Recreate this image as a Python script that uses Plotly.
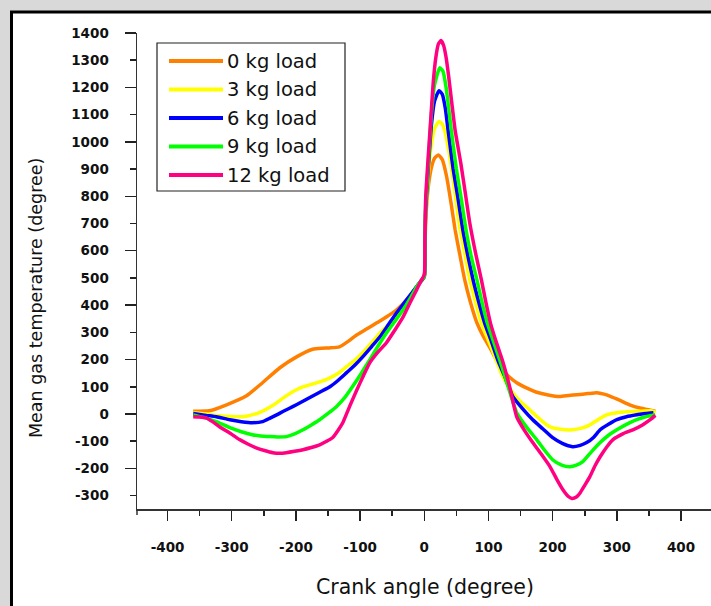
import plotly.graph_objects as go

# ---------------- data ----------------
angle_0kg = [-360, -335, -308, -277, -252, -225, -199, -174, -160, -147, -132, -118, -105, -90, -74, -58, -43, -23, -7, 0,
             1, 2, 4, 7, 11, 16, 22, 28, 35, 42, 48, 55, 63, 72, 82, 92, 102, 112, 122, 133, 144, 160, 175, 193, 211,
             225, 238, 255, 269, 280, 289, 305, 320, 336, 352, 360]
temp_0kg = [10, 12, 34, 67, 115, 170, 210, 238, 242, 243, 247, 268, 291, 312, 335, 358, 383, 431, 482, 505,
            600, 700, 780, 850, 905, 940, 952, 935, 870, 770, 677, 590, 493, 410, 335, 285, 245, 200, 163, 135, 115, 95, 80, 70, 64,
            68, 71, 75, 78, 73, 66, 50, 34, 22, 14, 10]

angle_3kg = [-360, -340, -319, -300, -283, -270, -257, -243, -230, -218, -205, -192, -179, -163, -147, -134, -121, -108, -96, -82,
             -69, -56, -43, -30, -18, -8, 0,
             1, 2, 4, 7, 11, 16, 23, 28, 32, 38, 45, 55, 63, 71, 80, 89, 100, 110, 120, 129, 138, 150, 160, 169,
             183, 196, 213, 231, 245, 258, 271, 284, 300, 316, 335, 352, 360]
temp_3kg = [5, 0, -6, -9, -10, -4, 5, 22, 41, 62, 82, 97, 107, 118, 133, 150, 174, 198, 225, 262,
            298, 328, 357, 400, 445, 480, 505,
            610, 720, 800, 900, 990, 1050, 1075, 1065, 1040, 970, 860, 690, 590, 493, 410, 335, 270, 210, 150, 110, 78, 45, 25, 5,
            -25, -47, -56, -58, -52, -40, -20, -3, 5, 8, 10, 12, 8]

angle_6kg = [-360, -340, -324, -303, -285, -268, -252, -241, -230, -218, -205, -192, -179, -163, -147, -134, -121, -108, -96, -82,
             -69, -56, -43, -30, -18, -8, 0,
             1, 2, 4, 7, 11, 16, 23, 28, 33, 37, 45, 52, 60, 68, 76, 85, 94, 104, 115, 125, 138, 153, 169,
             185, 200, 215, 231, 243, 253, 264, 274, 287, 300, 315, 331, 345, 357]
temp_6kg = [2, -5, -10, -21, -28, -32, -28, -16, -3, 12, 27, 43, 60, 80, 100, 124, 152, 180, 210, 248,
            284, 328, 372, 412, 449, 480, 505,
            620, 740, 820, 930, 1060, 1150, 1188, 1175, 1120, 1044, 900, 800, 677, 580, 493, 410, 335, 270, 195, 140, 64, 20, -21,
            -55, -87, -108, -120, -115, -105, -85, -58, -38, -21, -10, -3, 2, 5]

angle_9kg = [-360, -340, -324, -303, -285, -268, -255, -241, -228, -215, -202, -189, -176, -163, -150, -137, -124, -112, -98, -85,
             -72, -59, -46, -33, -22, -12, -5, 0,
             1, 2, 4, 7, 11, 16, 24, 29, 34, 42, 50, 57, 65, 73, 82, 90, 98, 108, 118, 130, 144, 160, 175,
             188, 200, 214, 227, 237, 247, 260, 274, 287, 300, 315, 331, 345, 360]
temp_9kg = [-3, -15, -28, -50, -65, -76, -81, -83, -84, -83, -73, -58, -40, -21, 2, 27, 60, 100, 150, 199,
            250, 298, 340, 383, 425, 467, 490, 505,
            630, 760, 840, 950, 1100, 1210, 1272, 1260, 1200, 1044, 900, 800, 677, 580, 493, 410, 335, 265, 195, 105, 5, -50, -94,
            -135, -168, -188, -194, -188, -175, -140, -105, -78, -58, -38, -21, -10, -3]

angle_12kg = [-360, -350, -340, -330, -319, -303, -288, -275, -262, -249, -236, -225, -215, -202, -189, -176, -163, -153, -143, -135,
              -127, -116, -105, -95, -85, -72, -59, -46, -33, -22, -12, -5, 0,
              1, 2, 3, 6, 10, 14, 18, 22, 26, 30, 34, 38, 43, 48, 57, 64, 71, 80, 89, 96, 103, 112, 122, 133, 144,
              156, 169, 183, 196, 206, 216, 224, 230, 237, 243, 250, 258, 266, 274, 284, 294, 310, 325, 340, 352, 360]
temp_12kg = [-10, -11, -14, -28, -47, -70, -94, -110, -124, -134, -142, -144, -142, -137, -131, -123, -113, -101, -87, -62,
             -32, 30, 89, 140, 188, 228, 262, 308, 357, 410, 456, 490, 512,
             640, 780, 830, 940, 1080, 1220, 1310, 1360, 1372, 1355, 1310, 1240, 1140, 1044, 920, 810, 700, 590, 493, 410, 335, 265, 195, 100, -10,
             -60, -105, -150, -194, -238, -278, -302, -310, -305, -289, -262, -230, -190, -157, -122, -94, -72, -58, -40, -21, -5]

series_names = ["0 kg load", "3 kg load", "6 kg load", "9 kg load", "12 kg load"]
series_angles = [angle_0kg, angle_3kg, angle_6kg, angle_9kg, angle_12kg]
series_temps = [temp_0kg, temp_3kg, temp_6kg, temp_9kg, temp_12kg]
series_colors = ["#FF8000", "#FFFF00", "#0000FF", "#00FF00", "#FF0080"]

x_tick_vals = [-400, -300, -200, -100, 0, 100, 200, 300, 400]
x_tick_text = ["-400", "-300", "-200", "-100", "0", "100", "200", "300", "400"]
y_tick_vals = [-300, -200, -100, 0, 100, 200, 300, 400, 500, 600, 700, 800, 900, 1000, 1100, 1200, 1300, 1400]
y_tick_text = ["-300", "-200", "-100", "0", "100", "200", "300", "400", "500", "600", "700", "800", "900",
               "1000", "1100", "1200", "1300", "1400"]

# ---------------- layout geometry (pixels) ----------------
W, H = 711, 606
ML, MR, MT, MB = 137, 0, 33, 97
PW, PH = W - ML - MR, H - MT - MB


def px(x):
    return (x - ML) / PW


def py(y):
    return (H - MB - y) / PH


FONT = "DejaVu Sans"
TICKFONT = dict(family=FONT, size=13.5, color="#111111", weight="bold")

fig = go.Figure()
for name, xs, ys, col in zip(series_names, series_angles, series_temps, series_colors):
    fig.add_trace(go.Scatter(x=xs, y=ys, mode="lines", name=name,
                             line=dict(color=col, width=3.5, shape="spline", smoothing=0.5),
                             showlegend=False))

# invisible trace for the overlay axis carrying the long ticks
fig.add_trace(go.Scatter(x=[0], y=[0], yaxis="y2", mode="markers",
                         marker=dict(opacity=0), showlegend=False, hoverinfo="skip"))

shapes = []
# white sheet with black frame (screenshot border)
shapes.append(dict(type="rect", xref="paper", yref="paper", layer="below",
                   x0=px(11.5), x1=px(730), y0=py(12), y1=py(640),
                   fillcolor="white", line=dict(color="black", width=3)))
# legend box
shapes.append(dict(type="rect", xref="paper", yref="paper",
                   x0=px(157), x1=px(345), y0=py(43), y1=py(191),
                   fillcolor="white", line=dict(color="#222222", width=1.2)))
# small extension of the y axis below the x axis
shapes.append(dict(type="line", xref="paper", yref="paper",
                   x0=px(137), x1=px(137), y0=py(509), y1=py(515),
                   line=dict(color="#333333", width=1.5)))

annotations = []
row_y = [61, 89.5, 118, 146.5, 175]
for name, col, ry in zip(series_names, series_colors, row_y):
    shapes.append(dict(type="line", xref="paper", yref="paper",
                       x0=px(169), x1=px(223), y0=py(ry), y1=py(ry),
                       line=dict(color=col, width=4)))
    annotations.append(dict(x=px(225), y=py(ry), xref="paper", yref="paper",
                            text=name, showarrow=False, xanchor="left", yanchor="middle",
                            font=dict(family=FONT, size=19.5, color="#111111")))

annotations.append(dict(x=px(425), y=py(587), xref="paper", yref="paper",
                        text="Crank angle (degree)", showarrow=False,
                        xanchor="center", yanchor="middle",
                        font=dict(family=FONT, size=20.5, color="#111111")))
annotations.append(dict(x=px(36), y=py(298), xref="paper", yref="paper",
                        text="Mean gas temperature (degree)", showarrow=False, textangle=-90,
                        xanchor="center", yanchor="middle",
                        font=dict(family=FONT, size=17.5, color="#111111")))

YR = [-349, 1400]
fig.update_layout(
    width=W, height=H,
    margin=dict(l=ML, r=MR, t=MT, b=MB, pad=0),
    paper_bgcolor="#d9d9d9",
    plot_bgcolor="rgba(0,0,0,0)",
    showlegend=False,
    shapes=shapes,
    annotations=annotations,
    xaxis=dict(range=[-447.6, 446.7], tickmode="array", tickvals=x_tick_vals, ticktext=x_tick_text,
               ticks="outside", ticklen=10, tickwidth=1.5, tickcolor="#222222",
               minor=dict(dtick=50, tick0=0, ticks="outside", ticklen=5, tickwidth=1.5, tickcolor="#222222"),
               showline=True, linecolor="#333333", linewidth=1.5,
               showgrid=False, zeroline=False,
               tickfont=TICKFONT, ticklabelstandoff=15),
    yaxis=dict(range=YR, tickmode="array", tickvals=y_tick_vals, ticktext=y_tick_text,
               ticks="outside", ticklen=6, tickwidth=1.5, tickcolor="#222222",
               showline=True, linecolor="#333333", linewidth=1.5,
               showgrid=False, zeroline=False,
               tickfont=TICKFONT, ticklabelstandoff=18),
    yaxis2=dict(range=YR, overlaying="y", side="left", tickmode="linear", tick0=0, dtick=200,
                ticks="outside", ticklen=11, tickwidth=1.5, tickcolor="#222222",
                showticklabels=False, showline=False, showgrid=False, zeroline=False),
)

fig.write_html("out.html", config={"displayModeBar": False, "staticPlot": True},
               post_script="document.body.style.margin='0';document.body.style.overflow='hidden';")
